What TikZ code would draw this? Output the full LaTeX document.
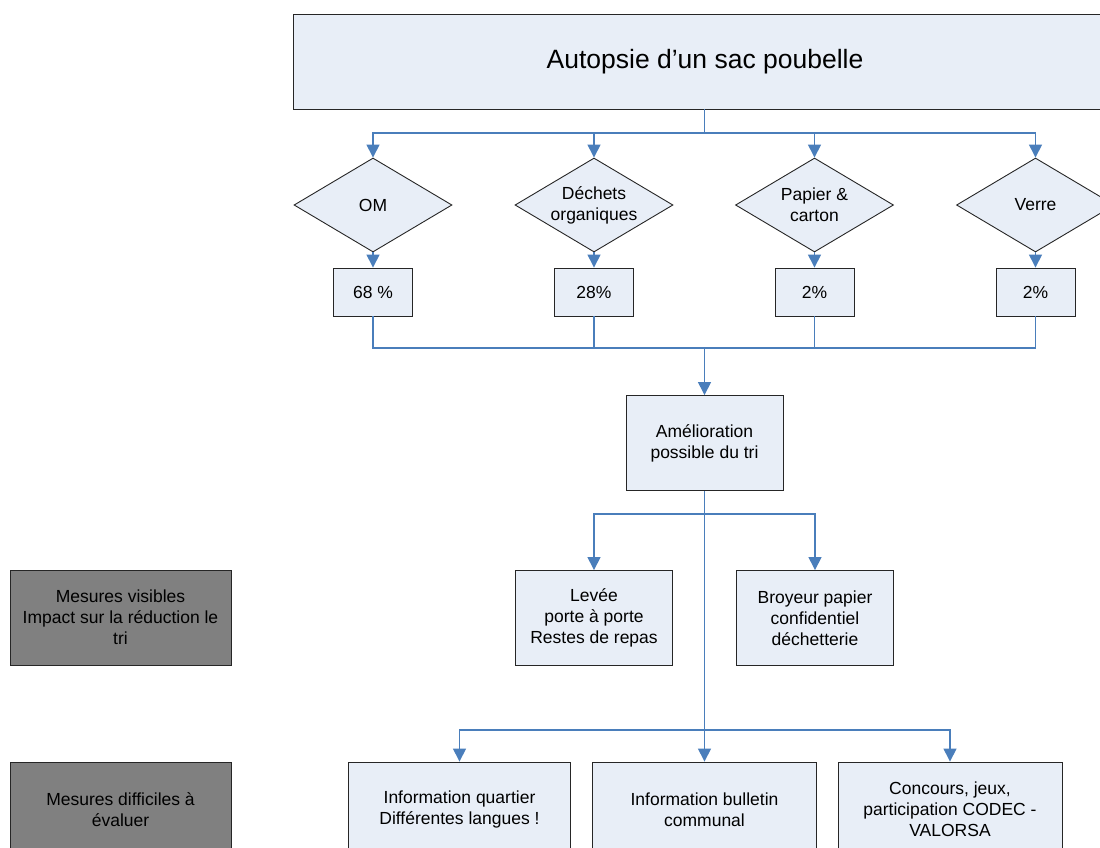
\documentclass[tikz,border=0pt]{standalone}
\usepackage{fontspec}
\setmainfont{Liberation Sans}
\usetikzlibrary{arrows.meta,shapes.geometric}
\definecolor{boxfill}{RGB}{232,238,247}
\definecolor{connblue}{RGB}{74,126,187}
\definecolor{grayfill}{RGB}{128,128,128}
\begin{document}
\begin{tikzpicture}[x=1pt,y=-1pt,
  txt/.style={font=\fontsize{17.5}{21}\selectfont, align=center},
  base/.style={txt, draw=black!85, line width=0.9pt, inner sep=0pt, fill=boxfill},
  bluebox/.style={base, minimum width=#1, minimum height=95pt},
  pctbox/.style={base, minimum width=79pt, minimum height=48pt},
  graybox/.style={base, fill=grayfill, minimum width=221pt, minimum height=95pt},
  dia/.style={diamond, draw=black!85, line width=0.9pt, fill=boxfill, inner sep=0pt,
              minimum width=158pt, minimum height=94pt},
  link/.style={draw=connblue, line width=1.4pt},
  arr/.style={link, -{Triangle[width=13pt,length=13pt]}}
]
\useasboundingbox (0,0) rectangle (1100,847);
\begin{scope}
\clip (0,0) rectangle (1100,847);

% title
\node[base, minimum width=824pt, minimum height=95pt, font=\fontsize{26.5}{32}\selectfont] (title) at (705,61.5) {Autopsie d’un sac poubelle};

% diamonds
\node[dia, label={[txt]center:OM}] (om) at (373,205) {};
\node[dia, label={[txt]center:Déchets\\organiques}] (dech) at (594,205) {};
\node[dia, label={[txt]center:Papier \&\\carton}] (pap) at (814.5,205) {};
\node[dia, label={[txt]center:Verre}] (ver) at (1035.5,205) {};

% percentage boxes
\node[pctbox] (p1) at (373,292) {68 \%};
\node[pctbox] (p2) at (594,292) {28\%};
\node[pctbox] (p3) at (814.5,292) {2\%};
\node[pctbox] (p4) at (1035.5,292) {2\%};

% amelioration
\node[bluebox=157pt] (amel) at (704.5,443) {Amélioration\\possible du tri};

% middle row
\node[bluebox=157pt] (levee) at (594,618) {Levée\\porte à porte\\Restes de repas};
\node[bluebox=157pt] (broy) at (815,618) {Broyeur papier\\confidentiel\\déchetterie};

% bottom row
\node[bluebox=222pt] (inf1) at (459.5,809.5) {Information quartier\\Différentes langues !};
\node[bluebox=224pt] (inf2) at (704.5,809.5) {Information bulletin\\communal};
\node[bluebox=224pt] (inf3) at (950,809.5) {Concours, jeux,\\participation CODEC -\\VALORSA};

% gray labels
\node[graybox] (g1) at (120.5,617.5) {Mesures visibles\\Impact sur la réduction le\\tri};
\node[graybox] (g2) at (120.5,809.5) {Mesures difficiles à\\évaluer};

% junction coordinates
\coordinate (s1) at (704.5,133);
\coordinate (j1) at (704.5,348);
\coordinate (s2) at (704.5,514);
\coordinate (s3) at (704.5,730);

% connectors
\draw[link] (title.south -| s1) -- (s1);
\draw[arr] (s1) -| (om.north);
\draw[arr] (s1) -| (dech.north);
\draw[arr] (s1) -| (pap.north);
\draw[arr] (s1) -| (ver.north);

\draw[arr] (om.south) -- (p1.north);
\draw[arr] (dech.south) -- (p2.north);
\draw[arr] (pap.south) -- (p3.north);
\draw[arr] (ver.south) -- (p4.north);

\draw[link] (p1.south) |- (j1);
\draw[link] (p2.south) |- (j1);
\draw[link] (p3.south) |- (j1);
\draw[link] (p4.south) |- (j1);
\draw[arr] (j1) -- (amel.north);

\draw[link] (amel.south) -- (s2);
\draw[arr] (s2) -| (levee.north);
\draw[arr] (s2) -| (broy.north);
\draw[link] (s2) -- (s3);
\draw[arr] (s3) -| (inf1.north);
\draw[arr] (s3) -- (inf2.north);
\draw[arr] (s3) -| (inf3.north);
\end{scope}
\end{tikzpicture}
\end{document}
